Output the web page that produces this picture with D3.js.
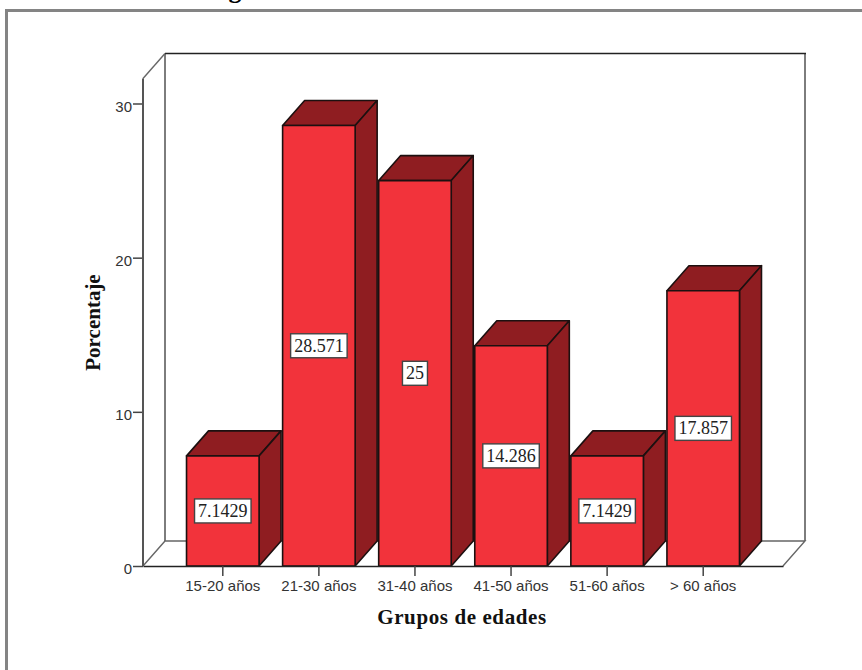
<!DOCTYPE html>
<html>
<head>
<meta charset="utf-8">
<script src="https://cdnjs.cloudflare.com/ajax/libs/d3/7.8.5/d3.min.js"></script>
<style>
  html, body { margin: 0; padding: 0; background: #fff; overflow: hidden; }
  svg { display: block; }
</style>
</head>
<body>
<div id="chart"></div>
<script>
// values
const categories = ["15-20 años", "21-30 años", "31-40 años", "41-50 años", "51-60 años", "> 60 años"];
const values = [7.1429, 28.571, 25, 14.286, 7.1429, 17.857];
const valueLabels = ["7.1429", "28.571", "25", "14.286", "7.1429", "17.857"];
const yTicks = [0, 10, 20, 30];

const svg = d3.select("#chart").append("svg")
    .attr("width", 862)
    .attr("height", 670);

// outer frame, runs off the right and bottom of the picture
svg.append("path")
    .attr("d", "M6.5,680V10.5H880")
    .attr("fill", "none")
    .attr("stroke", "#848484")
    .attr("stroke-width", 3);

// what is left of the cut off title
svg.append("text")
    .attr("x", 235)
    .attr("y", -2)
    .attr("text-anchor", "middle")
    .attr("font-family", "Liberation Serif")
    .attr("font-weight", "bold")
    .attr("font-size", 26)
    .text("g");

const xScale = d3.scaleBand()
    .domain(categories)
    .range([143, 783])
    .paddingInner(0.245)
    .paddingOuter(0.453);

const yScale = d3.scaleLinear()
    .domain([0, 30])
    .range([566, 103.5]);

// depth of the 3d effect
const depthX = 22, depthY = 25;
const x0 = xScale.range()[0], x1 = xScale.range()[1];
const yBase = yScale(0), yTop = 78.5;

// back wall and floor
const wallColor = "#7d7d7d";
svg.append("path")
    .attr("d", `M${x0 + depthX},${yBase - depthY}V${yTop - depthY + 0.5}`)
    .attr("stroke", wallColor).attr("stroke-width", 2).attr("fill", "none");
svg.append("path")
    .attr("d", `M${x1 + depthX},${yBase - depthY}V${yTop - depthY}`)
    .attr("stroke", wallColor).attr("stroke-width", 2).attr("fill", "none");
svg.append("path")
    .attr("d", `M${x0 + depthX},${yTop - depthY}H${x1 + depthX + 1}`)
    .attr("stroke", "#222").attr("stroke-width", 1.5).attr("fill", "none");
svg.append("path")
    .attr("d", `M${x0},${yBase}L${x0 + depthX},${yBase - depthY}H${x1 + depthX}L${x1},${yBase}`)
    .attr("stroke", "#666").attr("stroke-width", 1.4).attr("fill", "none");
svg.append("path")
    .attr("d", `M${x0},${yTop}L${x0 + depthX},${yTop - depthY}`)
    .attr("stroke", "#666").attr("stroke-width", 1.4).attr("fill", "none");

// bars, drawn as front + top + side
const bars = svg.selectAll(".bar")
    .data(values)
    .enter()
    .append("g")
    .attr("class", "bar")
    .attr("stroke", "#1c1010")
    .attr("stroke-width", 1.6)
    .attr("stroke-linejoin", "round");

const barLeft = (d, i) => xScale(categories[i]);
const barRight = (d, i) => xScale(categories[i]) + xScale.bandwidth();

bars.append("path")
    .attr("fill", "#8f1d21")
    .attr("d", (d, i) => {
        const l = barLeft(d, i), r = barRight(d, i), t = yScale(d);
        return `M${l},${t}L${l + depthX},${t - depthY}H${r + depthX}L${r},${t}Z`;
    });

bars.append("path")
    .attr("fill", "#8f1d21")
    .attr("d", (d, i) => {
        const r = barRight(d, i), t = yScale(d);
        return `M${r},${t}L${r + depthX},${t - depthY}V${yBase - depthY}L${r},${yBase}Z`;
    });

bars.append("rect")
    .attr("fill", "#f2333b")
    .attr("x", barLeft)
    .attr("y", d => yScale(d))
    .attr("width", xScale.bandwidth())
    .attr("height", d => yBase - yScale(d));

// axes
const yAxis = svg.append("g")
    .attr("transform", `translate(${x0},0)`)
    .call(d3.axisLeft(yScale).tickValues(yTicks).tickFormat(d3.format("d")).tickSize(10).tickSizeOuter(0).tickPadding(1));
yAxis.select(".domain").remove();
yAxis.selectAll(".tick text").attr("dy", "0.5em");
svg.append("line")
    .attr("x1", x0).attr("x2", x0)
    .attr("y1", yTop).attr("y2", yBase)
    .attr("stroke", "#555").attr("stroke-width", 2);

const xAxis = svg.append("g")
    .attr("transform", `translate(0,${yBase})`)
    .call(d3.axisBottom(xScale).tickSize(10).tickSizeOuter(0).tickPadding(4));
xAxis.select(".domain").attr("stroke", "#222").attr("stroke-width", 1.5);

svg.selectAll(".tick line").attr("stroke", "#444").attr("stroke-width", 1.5);
svg.selectAll(".tick text")
    .attr("font-family", "Liberation Sans")
    .attr("font-size", 15)
    .attr("fill", "#333");

// value labels
const labels = svg.selectAll(".value")
    .data(values)
    .enter()
    .append("g")
    .attr("class", "value")
    .attr("transform", (d, i) => `translate(${xScale(categories[i]) + xScale.bandwidth() / 2},${(yScale(d) + yBase) / 2})`);

labels.append("text")
    .attr("text-anchor", "middle")
    .attr("dy", "0.33em")
    .attr("font-family", "Liberation Serif")
    .attr("font-size", 18)
    .attr("fill", "#222")
    .text((d, i) => valueLabels[i]);

labels.insert("rect", "text")
    .attr("x", function () { return -this.parentNode.querySelector("text").getBBox().width / 2 - 3.5; })
    .attr("width", function () { return this.parentNode.querySelector("text").getBBox().width + 7; })
    .attr("y", -12)
    .attr("height", 24)
    .attr("fill", "#fff")
    .attr("stroke", "#444")
    .attr("stroke-width", 1.4);

// axis titles
svg.append("text")
    .attr("x", 462)
    .attr("y", 624)
    .attr("text-anchor", "middle")
    .attr("font-family", "Liberation Serif")
    .attr("font-weight", "bold")
    .attr("font-size", 21)
    .attr("letter-spacing", 0.6)
    .attr("fill", "#111")
    .text("Grupos de edades");

svg.append("text")
    .attr("transform", "translate(99.5,322.5) rotate(-90)")
    .attr("text-anchor", "middle")
    .attr("font-family", "Liberation Serif")
    .attr("font-weight", "bold")
    .attr("font-size", 21)
    .attr("fill", "#111")
    .text("Porcentaje");
</script>
</body>
</html>
